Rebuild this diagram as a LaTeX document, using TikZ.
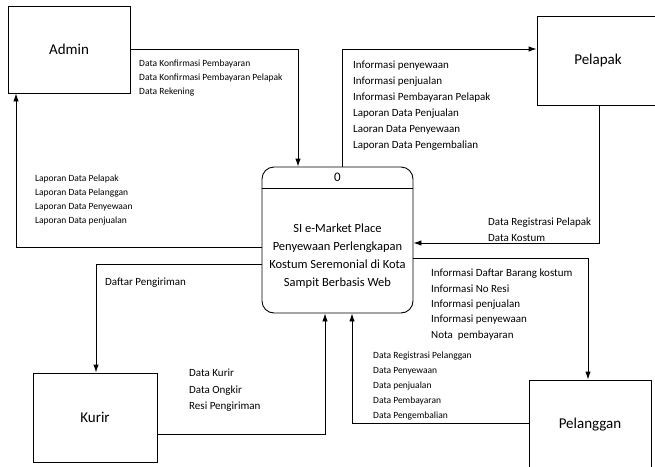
\documentclass[tikz,border=0pt]{standalone}
\usepackage{fontspec}
\setmainfont{Carlito}
\usetikzlibrary{arrows.meta}
\usetikzlibrary{calc}

\tikzset{
    entity/.style={draw, line width=0.9pt, minimum width=122pt, minimum height=88pt, font=\fontsize{15}{18}\selectfont},
    flow/.style={line width=0.9pt, -{Latex[length=8pt,width=5.5pt]}},
    smalltxt/.style={anchor=north west, inner sep=0pt, align=left, font=\fontsize{9.5}{14}\selectfont},
    bigtxt/.style={anchor=north west, inner sep=0pt, align=left, font=\fontsize{11}{16}\selectfont},
}

\begin{document}
\begin{tikzpicture}[x=1pt,y=-1pt]
        \useasboundingbox (0,0) rectangle (655,466);
        \clip (0,0) rectangle (655,466);

        \coordinate (A) at (69,49.5);
        \coordinate (L) at (598,60.5);
        \coordinate (K) at (95,417.5);
        \coordinate (G) at (590,425);
        \coordinate (P) at (337.5,240);

        % external entities
        \node[entity, minimum height=87pt] (admin) at (A) {Admin};
        \node[entity, minimum height=89pt] (pelapak) at (L) {Pelapak};
        \node[entity, minimum width=124pt, minimum height=89pt] (kurir) at (K) {Kurir};
        \node[entity, minimum height=90pt] (pelanggan) at (G) {Pelanggan};

        % process
        \node[draw, line width=0.9pt, rounded corners=12pt, minimum width=151pt, minimum height=146pt] (proc) at (P) {};
        \draw[line width=0.9pt] ($(proc.north west)+(0,22)$) -- ($(proc.north east)+(0,22)$);
        \node[font=\fontsize{13}{16}\selectfont] (procnum) at ($(proc.north)+(0,11)$) {0};
        \node[align=center, font=\fontsize{12.5}{18}\selectfont] (procname) at ($(P)+(0,16)$) {SI e-Market Place\\Penyewaan Perlengkapan\\Kostum Seremonial di Kota\\Sampit Berbasis Web};

        % data flows
        \draw[flow] (admin.east) -| ($(proc.north)+(-39.5,0)$);
        \draw[flow] ($(proc.west)+(0,7)$) -| ($(admin.south)+(-53,0)$);
        \draw[flow] ($(proc.north)+(4.5,0)$) |- ($(pelapak.west)+(0,-11.5)$);
        \draw[flow] ($(pelapak.south)+(1,0)$) |- ($(proc.east)+(0,3)$);
        \draw[flow] ($(proc.east)+(0,18)$) -| ($(pelanggan.north)+(-2,0)$);
        \draw[flow] ($(pelanggan.west)+(0,-2)$) -| ($(proc.south)+(14.5,0)$);
        \draw[flow] ($(proc.west)+(0,24)$) -| ($(kurir.north)+(1,0)$);
        \draw[flow] ($(kurir.east)+(0,16.5)$) -| ($(proc.south)+(-12.5,0)$);

        % flow labels
        \node[smalltxt] (lblAP) at (139,60) {Data Konfirmasi Pembayaran\\Data Konfirmasi Pembayaran Pelapak\\Data Rekening};
        \node[smalltxt] (lblPA) at (35,175) {Laporan Data Pelapak\\Laporan Data Pelanggan\\Laporan Data Penyewaan\\Laporan Data penjualan};
        \node[bigtxt] (lblPL) at (353,61) {Informasi penyewaan\\Informasi penjualan\\Informasi Pembayaran Pelapak\\Laporan Data Penjualan\\Laoran Data Penyewaan\\Laporan Data Pengembalian};
        \node[bigtxt] (lblLP) at (488,218) {Data Registrasi Pelapak\\Data Kostum};
        \node[bigtxt, font=\fontsize{11}{15.3}\selectfont] (lblPG) at (431,269) {Informasi Daftar Barang kostum\\Informasi No Resi\\Informasi penjualan\\Informasi penyewaan\\Nota~ pembayaran};
        \node[smalltxt, font=\fontsize{9.5}{14.8}\selectfont] (lblGP) at (373,352) {Data Registrasi Pelanggan\\Data Penyewaan\\Data penjualan\\Data Pembayaran\\Data Pengembalian};
        \node[bigtxt] (lblPK) at (105,278) {Daftar Pengiriman};
        \node[bigtxt, font=\fontsize{11}{16.5}\selectfont] (lblKP) at (189,369) {Data Kurir\\Data Ongkir\\Resi Pengiriman};
\end{tikzpicture}
\end{document}
